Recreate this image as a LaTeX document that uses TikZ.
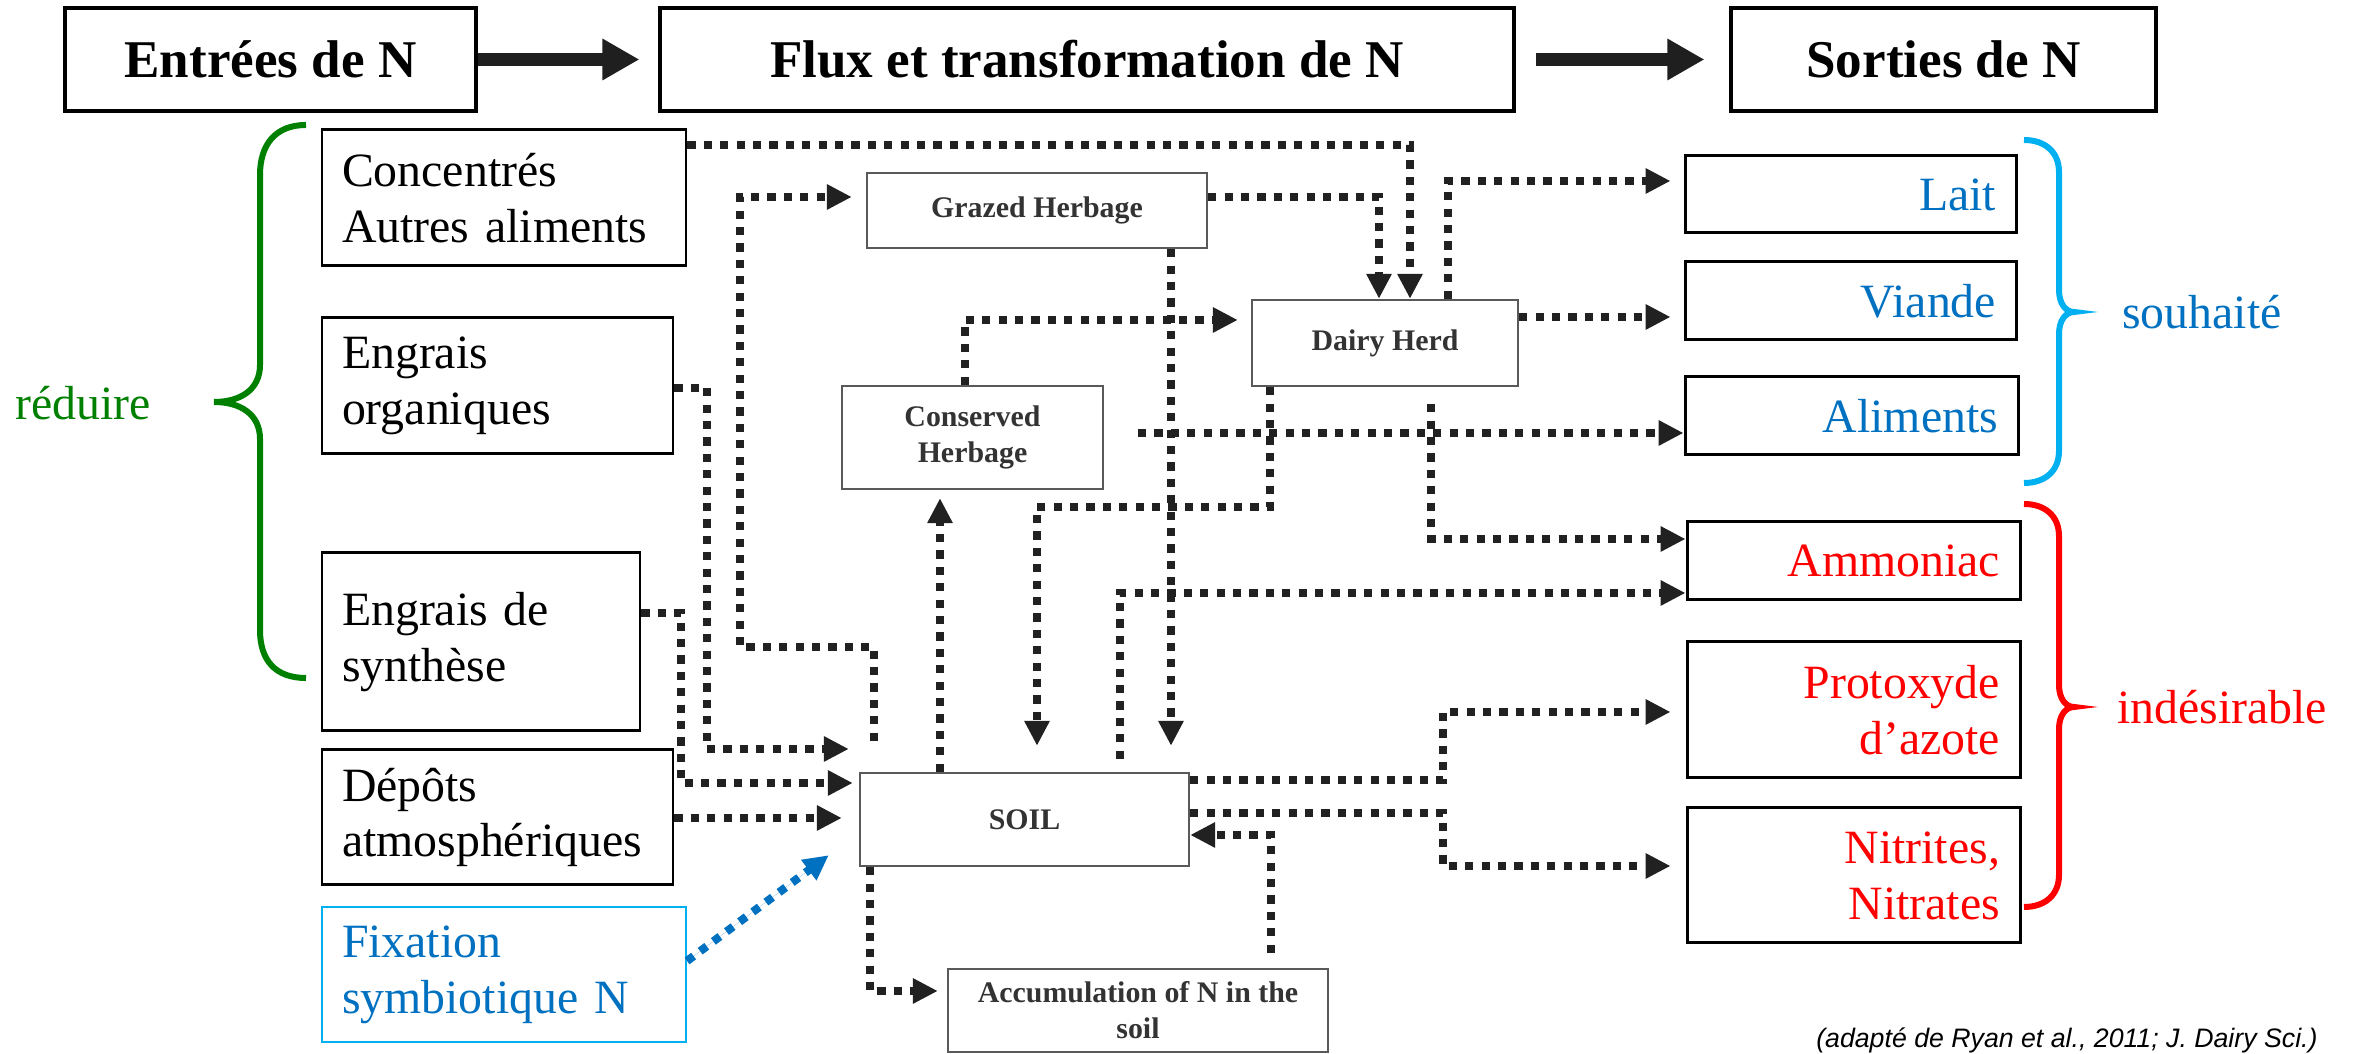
\documentclass[tikz,border=0pt]{standalone}
\usepackage{fontspec}
\setmainfont{Liberation Serif}
\newfontfamily\notefont{Liberation Sans}
\usetikzlibrary{arrows.meta,calc}
\definecolor{outblue}{HTML}{0070C0}
\definecolor{fixcyan}{HTML}{00B0F0}
\definecolor{redout}{HTML}{FF0000}
\definecolor{greenin}{HTML}{008000}
\tikzset{
  titlebox/.style={draw, line width=0.9pt, minimum height=10.3mm, font=\bfseries\fontsize{15.1}{18}\selectfont},
  srcbox/.style={draw, line width=0.85pt, inner xsep=2mm, inner ysep=0pt, align=left, font=\fontsize{13.6}{15.9}\selectfont},
  sinkbox/.style={srcbox, align=right},
  poolbox/.style={draw=black!65, line width=0.7pt, inner sep=0pt, align=center, text=black!80, font=\bfseries\fontsize{8.5}{10.2}\selectfont},
  flow/.style={draw=black!87, line width=0.82mm, dash pattern=on 0.82mm off 0.82mm, -{Triangle[length=2.5mm,width=2.4mm]}},
  bigarrow/.style={draw=black!88, line width=1.3mm, -{Triangle[length=3.7mm,width=3.9mm]}},
  bracket/.style={line width=0.6mm},
}
\begin{document}
\begin{tikzpicture}[x=0.1mm,y=-0.1mm]
  \useasboundingbox (0,0) rectangle (2358,1054);

  %Headers
  \node[titlebox, minimum width=41.1mm] (entrees) at (270.5,59.5) {Entrées de N};
  \node[titlebox, minimum width=85.4mm] (flux) at (1087,59.5) {Flux et transformation de N};
  \node[titlebox, minimum width=42.5mm] (sorties) at (1943.5,59.5) {Sorties de N};
  \draw[bigarrow, shorten >=1.9mm] (entrees.east) -- (flux.west);
  \draw[bigarrow, shorten <=2mm, shorten >=2.5mm] (flux.east) -- (sorties.west);

  %Inputs
  \node[srcbox, text width=32.4mm, minimum height=13.6mm] (conc) at (504,198) {Concentrés\\Autres aliments};
  \node[srcbox, text width=31.1mm, minimum height=13.6mm] (org) at (497.5,386) {Engrais\\organiques};
  \node[srcbox, text width=27.8mm, minimum height=17.8mm] (synth) at (481,642) {Engrais de\\synthèse};
  \node[srcbox, text width=31.1mm, minimum height=13.5mm] (dep) at (497.5,817.5) {Dépôts\\atmosphériques};
  \node[srcbox, draw=fixcyan, line width=0.6pt, text=outblue, text width=32.4mm, minimum height=13.5mm] (fix) at (504,974.5) {Fixation\\symbiotique N};

  %Pools
  \node[poolbox, minimum width=34mm, minimum height=7.5mm] (gh) at (1037,210.5) {Grazed Herbage};
  \node[poolbox, minimum width=26.1mm, minimum height=10.3mm] (ch) at (972.5,437.5) {Conserved\\Herbage};
  \node[poolbox, minimum width=26.6mm, minimum height=8.6mm] (dh) at (1385,343) {Dairy Herd};
  \node[poolbox, minimum width=32.9mm, minimum height=9.3mm] (soil) at (1024.5,819.5) {SOIL};
  \node[poolbox, minimum width=38mm, minimum height=8.3mm] (acc) at (1138,1010.5) {Accumulation of N in the\\soil};

  %Outputs
  \node[sinkbox, text=outblue, text width=29.1mm, minimum height=7.7mm] (lait) at (1850.5,194.5) {Lait};
  \node[sinkbox, text=outblue, text width=29.1mm, minimum height=7.8mm] (viande) at (1850.5,301) {Viande};
  \node[sinkbox, text=outblue, text width=29.3mm, minimum height=7.8mm] (alim) at (1851.5,416) {Aliments};
  \node[sinkbox, text=redout, text width=29.3mm, minimum height=7.8mm] (ammo) at (1853.5,561) {Ammoniac};
  \node[sinkbox, text=redout, text width=29.3mm, minimum height=13.6mm] (proto) at (1853.5,710) {Protoxyde\\d’azote};
  \node[sinkbox, text=redout, text width=29.3mm, minimum height=13.5mm] (nitr) at (1853.5,875.5) {Nitrites,\\Nitrates};

  %Flows
  \draw[flow] (conc.east |- 0,145) -| ([xshift=2.5mm]dh.north);
  \draw[flow] (gh.east |- 0,197) -| ([xshift=-0.6mm]dh.north);
  \draw[flow, shorten >=1.3mm] (dh.north -| 1448,0) |- (lait.west |- 0,181);
  \draw[flow, shorten >=1.3mm] (dh.east |- 0,317) -- (viande.west |- 0,317);
  \draw[flow, shorten >=1.3mm] (ch.north -| 965,0) |- (dh.west |- 0,320);
  \draw[flow, shorten >=0.8mm] (soil.north -| 940,0) -- (ch.south -| 940,0);
  \draw[flow, shorten >=2.6mm] (gh.south -| 1171,0) -- (soil.north -| 1171,0);
  \draw[flow, shorten >=2.6mm] (dh.south -| 1270,0) |- (1037,507) -- (soil.north -| 1037,0);
  \coordinate (alimstart) at (1138,433);
  \draw[flow] (alimstart) -- (alim.west |- alimstart);
  \draw[flow] ($(dh.south -| 1431,0)+(0,17)$) |- (ammo.west |- 0,539);
  \draw[flow] ($(soil.north -| 1120,0)+(0,-13)$) |- (ammo.west |- 0,593);
  \draw[flow, shorten >=1.5mm] (soil.east |- 0,780) -| (1443,712) -- (proto.west |- 0,712);
  \draw[flow, shorten >=1.5mm] (soil.east |- 0,813) -| (1443,866) -- (nitr.west |- 0,866);
  \draw[flow] ($(acc.north -| 1271,0)+(0,-15)$) |- (soil.east |- 0,835);
  \draw[flow, shorten >=0.9mm] (soil.south -| 870,0) |- (acc.west |- 0,991);
  \draw[flow, shorten >=1mm] (org.east |- 0,388) -| (707,749) -- (soil.west |- 0,749);
  \draw[flow, shorten >=0.6mm] (synth.east |- 0,613) -| (681,783) -- (soil.west |- 0,783);
  \draw[flow, shorten >=1.7mm] (dep.east |- 0,818) -- (soil.west |- 0,818);
  \draw[flow, shorten >=1.4mm] ($(soil.north -| 874,0)+(0,-31)$) |- (740,647) |- (gh.west |- 0,197);
  \draw[flow, draw=outblue, fill=outblue] (fix.east |- 0,961) -- ($(soil.south west)+(-30,-12)$);

  %Brackets
  \draw[bracket, greenin] (306,125) .. controls (275,125) and (260,145) .. (260,175) -- (260,365)
    .. controls (260,390) and (240,402) .. (214,402) .. controls (240,402) and (260,414) .. (260,439)
    -- (260,630) .. controls (260,660) and (275,678) .. (306,678);
  \draw[bracket, fixcyan] (2024,140) .. controls (2045,140) and (2059,152) .. (2059,172) -- (2059,290)
    .. controls (2059,304) and (2066,312) .. (2074,312) .. controls (2066,312) and (2059,320) .. (2059,334)
    -- (2059,451) .. controls (2059,471) and (2045,483) .. (2024,483);
  \draw[bracket, redout] (2024,504) .. controls (2045,504) and (2059,516) .. (2059,536) -- (2059,685)
    .. controls (2059,699) and (2066,707) .. (2074,707) .. controls (2066,707) and (2059,715) .. (2059,729)
    -- (2059,875) .. controls (2059,895) and (2045,907) .. (2024,907);
  \node[text=greenin, font=\fontsize{13.6}{15.9}\selectfont] (reduire) at (83,403) {réduire};
  \node[text=outblue, font=\fontsize{13.6}{15.9}\selectfont] (souhaite) at (2202,312) {souhaité};
  \node[text=redout, font=\fontsize{13.6}{15.9}\selectfont] (indesir) at (2222,707) {indésirable};

  \node[anchor=east, font=\notefont\itshape\fontsize{7.6}{9}\selectfont] (source) at (2330,1040) {(adapté de Ryan et al., 2011; J. Dairy Sci.)};
\end{tikzpicture}
\end{document}
